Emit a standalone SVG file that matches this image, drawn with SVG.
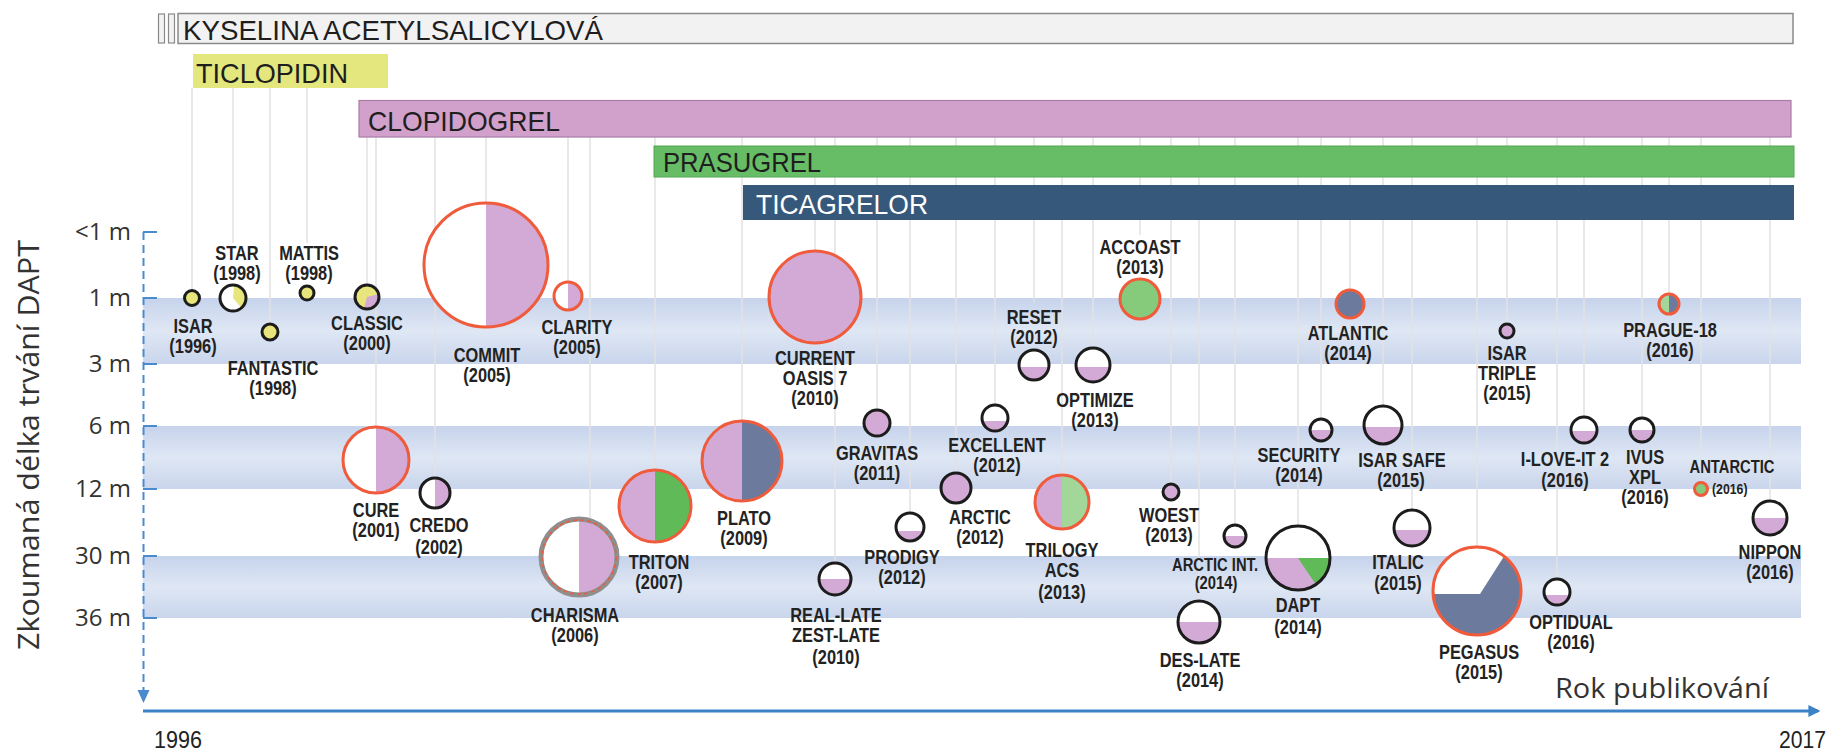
<svg xmlns="http://www.w3.org/2000/svg" width="1833" height="751" viewBox="0 0 1833 751">
<defs>
<linearGradient id="band" x1="0" y1="0" x2="0" y2="1">
<stop offset="0" stop-color="#c6d3ec"/><stop offset="0.5" stop-color="#dfe7f4"/><stop offset="1" stop-color="#c9d5ec"/>
</linearGradient>
<marker id="arr" viewBox="0 0 10 10" refX="8" refY="5" markerWidth="4" markerHeight="4" orient="auto" markerUnits="strokeWidth">
<path d="M0,0 L10,5 L0,10 Z" fill="#3b83c6"/>
</marker>
<style>
.lbl{font-family:"Liberation Sans",Arial,sans-serif;font-size:20px;font-weight:bold;fill:#222;text-anchor:middle}
.sm{font-size:18px}
.xs{font-size:15px}
.bar{font-family:"Liberation Sans",Arial,sans-serif;font-size:28px;fill:#1e1e1e}
.ax{font-family:"Open Sans","Liberation Sans",sans-serif;font-size:24px;fill:#333;text-anchor:end}
.yr{font-family:"Liberation Sans",Arial,sans-serif;font-size:23px;fill:#222}
.wh{fill:#fff}
.pu{fill:#d3aad5}
.ye{fill:#e7e57b}
.gr{fill:#5fba57}
.lg{fill:#a3d79a}
.sl{fill:#6c7b9d}
.kb{fill:none;stroke:#1c1c1c;stroke-width:3}
.rb{fill:none;stroke:#ef5b3b;stroke-width:3}
.cn{stroke:#e2e2e2;stroke-width:1.5;fill:none}
.tk{stroke:#4a8bd0;stroke-width:2}
</style>
</defs>
<rect width="1833" height="751" fill="#fff"/>

<g id="bands">
<rect x="143" y="298" width="1658" height="66" fill="url(#band)"/>
<rect x="143" y="426" width="1658" height="63" fill="url(#band)"/>
<rect x="143" y="556" width="1658" height="62" fill="url(#band)"/>
</g>

<g id="connectors">
<line class="cn" x1="192" y1="88" x2="192" y2="290"/>
<line class="cn" x1="233" y1="88" x2="233" y2="243"/>
<line class="cn" x1="270" y1="88" x2="270" y2="324"/>
<line class="cn" x1="307" y1="88" x2="307" y2="243"/>
<line class="cn" x1="367" y1="137" x2="367" y2="285"/>
<line class="cn" x1="376" y1="137" x2="376" y2="427"/>
<line class="cn" x1="435" y1="137" x2="435" y2="478"/>
<line class="cn" x1="486" y1="137" x2="486" y2="203"/>
<line class="cn" x1="568" y1="137" x2="568" y2="282"/>
<line class="cn" x1="590" y1="137" x2="590" y2="520"/>
<line class="cn" x1="655" y1="137" x2="655" y2="470"/>
<line class="cn" x1="742" y1="137" x2="742" y2="421"/>
<line class="cn" x1="815" y1="137" x2="815" y2="251"/>
<line class="cn" x1="835" y1="137" x2="835" y2="563"/>
<line class="cn" x1="877" y1="137" x2="877" y2="410"/>
<line class="cn" x1="910" y1="137" x2="910" y2="513"/>
<line class="cn" x1="956" y1="137" x2="956" y2="473"/>
<line class="cn" x1="995" y1="137" x2="995" y2="405"/>
<line class="cn" x1="1034" y1="137" x2="1034" y2="303"/>
<line class="cn" x1="1062" y1="137" x2="1062" y2="475"/>
<line class="cn" x1="1093" y1="137" x2="1093" y2="348"/>
<line class="cn" x1="1140" y1="137" x2="1140" y2="235"/>
<line class="cn" x1="1171" y1="137" x2="1171" y2="484"/>
<line class="cn" x1="1199" y1="137" x2="1199" y2="601"/>
<line class="cn" x1="1235" y1="137" x2="1235" y2="525"/>
<line class="cn" x1="1298" y1="137" x2="1298" y2="526"/>
<line class="cn" x1="1321" y1="137" x2="1321" y2="419"/>
<line class="cn" x1="1350" y1="137" x2="1350" y2="290"/>
<line class="cn" x1="1383" y1="137" x2="1383" y2="406"/>
<line class="cn" x1="1412" y1="137" x2="1412" y2="509"/>
<line class="cn" x1="1477" y1="137" x2="1477" y2="547"/>
<line class="cn" x1="1507" y1="137" x2="1507" y2="324"/>
<line class="cn" x1="1557" y1="137" x2="1557" y2="579"/>
<line class="cn" x1="1584" y1="137" x2="1584" y2="417"/>
<line class="cn" x1="1642" y1="137" x2="1642" y2="418"/>
<line class="cn" x1="1669" y1="137" x2="1669" y2="294"/>
<line class="cn" x1="1701" y1="137" x2="1701" y2="455"/>
<line class="cn" x1="1770" y1="137" x2="1770" y2="501"/>
</g>

<g id="bar-asa">
<rect x="158.5" y="14" width="6" height="29" fill="#f2f2f2" stroke="#8a8a8a" stroke-width="1.2"/>
<rect x="168.5" y="14" width="6" height="29" fill="#f2f2f2" stroke="#8a8a8a" stroke-width="1.2"/>
<rect x="178" y="13.5" width="1615" height="30" fill="#f2f2f2" stroke="#8a8a8a" stroke-width="1.5"/>
<text class="bar" x="183" y="40" textLength="420" lengthAdjust="spacingAndGlyphs">KYSELINA ACETYLSALICYLOVÁ</text>
</g>
<g id="bar-ticlopidin">
<rect x="193" y="54" width="195" height="34" fill="#e4e77d"/>
<text class="bar" x="196" y="83" textLength="152" lengthAdjust="spacingAndGlyphs">TICLOPIDIN</text>
</g>
<g id="bar-clopidogrel">
<rect x="359" y="100.5" width="1432" height="36.5" fill="#d1a1cb" stroke="#a97ca8" stroke-width="1.2"/>
<text class="bar" x="368" y="131" textLength="192" lengthAdjust="spacingAndGlyphs">CLOPIDOGREL</text>
</g>
<g id="bar-prasugrel">
<rect x="654" y="146" width="1140" height="31" fill="#67bd66" stroke="#55a655" stroke-width="1"/>
<text class="bar" x="663" y="172" textLength="158" lengthAdjust="spacingAndGlyphs">PRASUGREL</text>
</g>
<g id="bar-ticagrelor">
<rect x="743" y="185" width="1051" height="35" fill="#36587b"/>
<text class="bar" x="756" y="214" textLength="172" lengthAdjust="spacingAndGlyphs" style="fill:#fff">TICAGRELOR</text>
</g>

<g id="axes">
<line x1="143.5" y1="232" x2="143.5" y2="692" stroke="#4a8bd0" stroke-width="2" stroke-dasharray="8,5"/>
<polygon points="137.5,690 149.5,690 143.5,703" fill="#4a8bd0"/>
<line class="tk" x1="143" y1="232" x2="157" y2="232"/>
<line class="tk" x1="143" y1="298" x2="157" y2="298"/>
<line class="tk" x1="143" y1="364" x2="157" y2="364"/>
<line class="tk" x1="143" y1="426" x2="157" y2="426"/>
<line class="tk" x1="143" y1="489" x2="157" y2="489"/>
<line class="tk" x1="143" y1="556" x2="157" y2="556"/>
<line class="tk" x1="143" y1="618" x2="157" y2="618"/>
<text class="ax" x="131" y="240">&lt;1 m</text>
<text class="ax" x="131" y="306">1 m</text>
<text class="ax" x="131" y="372">3 m</text>
<text class="ax" x="131" y="434">6 m</text>
<text class="ax" x="131" y="497">12 m</text>
<text class="ax" x="131" y="564">30 m</text>
<text class="ax" x="131" y="626">36 m</text>
<text transform="translate(39,445) rotate(-90)" font-family="'Open Sans','Liberation Sans',sans-serif" font-size="30" fill="#333" text-anchor="middle" textLength="410" lengthAdjust="spacingAndGlyphs">Zkoumaná délka trvání DAPT</text>
<line x1="143" y1="711" x2="1818" y2="711" stroke="#3b83c6" stroke-width="3" marker-end="url(#arr)"/>
<text class="yr" x="154" y="748" textLength="48" lengthAdjust="spacingAndGlyphs">1996</text>
<text class="yr" x="1779" y="748" textLength="47" lengthAdjust="spacingAndGlyphs">2017</text>
<text x="1555" y="698" font-family="'Open Sans','Liberation Sans',sans-serif" font-size="28" fill="#333" textLength="214" lengthAdjust="spacingAndGlyphs">Rok publikování</text>
</g>

<g id="n-isar">
<circle class="ye" cx="192" cy="298" r="7.5"/><circle class="kb" cx="192" cy="298" r="7.5"/>
<text class="lbl" transform="translate(193,333) scale(.82,1)">ISAR</text><text class="lbl" transform="translate(193,353) scale(.82,1)">(1996)</text>
</g>
<g id="n-star">
<circle class="wh" cx="233" cy="298" r="13"/>
<path class="ye" d="M233,298 L234.13,285.05 A13 13 0 0 1 241.36,307.96 Z"/>
<circle class="kb" cx="233" cy="298" r="13"/>
<text class="lbl" transform="translate(237,260) scale(.82,1)">STAR</text><text class="lbl" transform="translate(237,280) scale(.82,1)">(1998)</text>
</g>
<g id="n-fantastic">
<circle class="ye" cx="270" cy="332" r="8"/><circle class="kb" cx="270" cy="332" r="8"/>
<text class="lbl" transform="translate(273,375) scale(.82,1)">FANTASTIC</text><text class="lbl" transform="translate(273,395) scale(.82,1)">(1998)</text>
</g>
<g id="n-mattis">
<circle class="ye" cx="307" cy="293" r="7"/><circle class="kb" cx="307" cy="293" r="7"/>
<text class="lbl" transform="translate(309,260) scale(.82,1)">MATTIS</text><text class="lbl" transform="translate(309,280) scale(.82,1)">(1998)</text>
</g>
<g id="n-classic">
<circle class="ye" cx="367" cy="297" r="12"/>
<path class="pu" d="M367,297 L378.59,293.89 A12 12 0 0 1 363.89,308.59 Z"/>
<circle class="kb" cx="367" cy="297" r="12"/>
<text class="lbl" transform="translate(367,330) scale(.82,1)">CLASSIC</text><text class="lbl" transform="translate(367,350) scale(.82,1)">(2000)</text>
</g>
<g id="n-cure">
<circle class="wh" cx="376" cy="460" r="33"/>
<path class="pu" d="M376,427 A33 33 0 0 1 376,493 Z"/>
<circle class="rb" cx="376" cy="460" r="33"/>
<text class="lbl" transform="translate(376,517) scale(.82,1)">CURE</text><text class="lbl" transform="translate(376,537) scale(.82,1)">(2001)</text>
</g>
<g id="n-credo">
<circle class="wh" cx="435" cy="493" r="15"/>
<path class="pu" d="M435,478 A15 15 0 0 1 435,508 Z"/>
<circle class="kb" cx="435" cy="493" r="15"/>
<text class="lbl" transform="translate(439,532) scale(.82,1)">CREDO</text><text class="lbl" transform="translate(439,554) scale(.82,1)">(2002)</text>
</g>
<g id="n-commit">
<circle class="wh" cx="486" cy="265" r="62"/>
<path class="pu" d="M486,203 A62 62 0 0 1 486,327 Z"/>
<circle class="rb" cx="486" cy="265" r="62"/>
<text class="lbl" transform="translate(487,362) scale(.82,1)">COMMIT</text><text class="lbl" transform="translate(487,382) scale(.82,1)">(2005)</text>
</g>
<g id="n-clarity">
<circle class="wh" cx="568" cy="296" r="14"/>
<path class="pu" d="M568,282 A14 14 0 0 1 568,310 Z"/>
<circle class="rb" cx="568" cy="296" r="14"/>
<text class="lbl" transform="translate(577,334) scale(.82,1)">CLARITY</text><text class="lbl" transform="translate(577,354) scale(.82,1)">(2005)</text>
</g>
<g id="n-charisma">
<circle class="wh" cx="579" cy="557" r="38"/>
<path class="pu" d="M579,519 A38 38 0 0 1 579,595 Z"/>
<circle cx="579" cy="557" r="38" fill="none" stroke="#8f8f8f" stroke-width="5"/>
<circle cx="579" cy="557" r="37" fill="none" stroke="#ef5b3b" stroke-width="1.5" stroke-dasharray="4,3"/>
<text class="lbl" transform="translate(575,622) scale(.82,1)">CHARISMA</text><text class="lbl" transform="translate(575,642) scale(.82,1)">(2006)</text>
</g>
<g id="n-triton">
<circle class="pu" cx="655" cy="506" r="36"/>
<path class="gr" d="M655,470 A36 36 0 0 1 655,542 Z"/>
<circle class="rb" cx="655" cy="506" r="36"/>
<text class="lbl" transform="translate(659,569) scale(.82,1)">TRITON</text><text class="lbl" transform="translate(659,589) scale(.82,1)">(2007)</text>
</g>
<g id="n-plato">
<circle class="pu" cx="742" cy="461" r="40"/>
<path class="sl" d="M742,421 A40 40 0 0 1 742,501 Z"/>
<circle class="rb" cx="742" cy="461" r="40"/>
<text class="lbl" transform="translate(744,525) scale(.82,1)">PLATO</text><text class="lbl" transform="translate(744,545) scale(.82,1)">(2009)</text>
</g>
<g id="n-current">
<circle class="pu" cx="815" cy="297" r="46"/>
<circle class="rb" cx="815" cy="297" r="46"/>
<text class="lbl" transform="translate(815,365) scale(.82,1)">CURRENT</text><text class="lbl" transform="translate(815,385) scale(.82,1)">OASIS 7</text><text class="lbl" transform="translate(815,405) scale(.82,1)">(2010)</text>
</g>
<g id="n-reallate">
<circle class="wh" cx="835" cy="579" r="16"/>
<path class="pu" d="M819,579 L851,579 A16 16 0 0 1 819,579 Z"/>
<circle class="kb" cx="835" cy="579" r="16"/>
<text class="lbl" transform="translate(836,622) scale(.82,1)">REAL-LATE</text><text class="lbl" transform="translate(836,642) scale(.82,1)">ZEST-LATE</text><text class="lbl" transform="translate(836,664) scale(.82,1)">(2010)</text>
</g>
<g id="n-gravitas">
<circle class="pu" cx="877" cy="423" r="13"/><circle class="kb" cx="877" cy="423" r="13"/>
<text class="lbl" transform="translate(877,460) scale(.82,1)">GRAVITAS</text><text class="lbl" transform="translate(877,480) scale(.82,1)">(2011)</text>
</g>
<g id="n-prodigy">
<circle class="wh" cx="910" cy="527" r="14"/>
<path class="pu" d="M896.58,531 L923.42,531 A14 14 0 0 1 896.58,531 Z"/>
<circle class="kb" cx="910" cy="527" r="14"/>
<text class="lbl" transform="translate(902,564) scale(.82,1)">PRODIGY</text><text class="lbl" transform="translate(902,584) scale(.82,1)">(2012)</text>
</g>
<g id="n-arctic">
<circle class="pu" cx="956" cy="488" r="15"/><circle class="kb" cx="956" cy="488" r="15"/>
<text class="lbl" transform="translate(980,524) scale(.82,1)">ARCTIC</text><text class="lbl" transform="translate(980,544) scale(.82,1)">(2012)</text>
</g>
<g id="n-excellent">
<circle class="wh" cx="995" cy="418" r="13"/>
<path class="pu" d="M982.35,421 L1007.65,421 A13 13 0 0 1 982.35,421 Z"/>
<circle class="kb" cx="995" cy="418" r="13"/>
<text class="lbl" transform="translate(997,452) scale(.82,1)">EXCELLENT</text><text class="lbl" transform="translate(997,472) scale(.82,1)">(2012)</text>
</g>
<g id="n-reset">
<circle class="wh" cx="1034" cy="365" r="15"/>
<path class="pu" d="M1019.13,367 L1048.87,367 A15 15 0 0 1 1019.13,367 Z"/>
<circle class="kb" cx="1034" cy="365" r="15"/>
<text class="lbl" transform="translate(1034,324) scale(.82,1)">RESET</text><text class="lbl" transform="translate(1034,344) scale(.82,1)">(2012)</text>
</g>
<g id="n-optimize">
<circle class="wh" cx="1093" cy="365" r="17"/>
<path class="pu" d="M1076.12,367 L1109.88,367 A17 17 0 0 1 1076.12,367 Z"/>
<circle class="kb" cx="1093" cy="365" r="17"/>
<text class="lbl" transform="translate(1095,407) scale(.82,1)">OPTIMIZE</text><text class="lbl" transform="translate(1095,427) scale(.82,1)">(2013)</text>
</g>
<g id="n-accoast">
<circle fill="#86cb7c" cx="1140" cy="299" r="20"/><circle class="rb" cx="1140" cy="299" r="20"/>
<text class="lbl" transform="translate(1140,254) scale(.82,1)">ACCOAST</text><text class="lbl" transform="translate(1140,274) scale(.82,1)">(2013)</text>
</g>
<g id="n-trilogy">
<circle class="pu" cx="1062" cy="502" r="27"/>
<path class="lg" d="M1062,475 A27 27 0 0 1 1062,529 Z"/>
<circle class="rb" cx="1062" cy="502" r="27"/>
<text class="lbl" transform="translate(1062,557) scale(.82,1)">TRILOGY</text><text class="lbl" transform="translate(1062,577) scale(.82,1)">ACS</text><text class="lbl" transform="translate(1062,599) scale(.82,1)">(2013)</text>
</g>
<g id="n-woest">
<circle class="pu" cx="1171" cy="492" r="8"/><circle class="kb" cx="1171" cy="492" r="8"/>
<text class="lbl" transform="translate(1169,522) scale(.82,1)">WOEST</text><text class="lbl" transform="translate(1169,542) scale(.82,1)">(2013)</text>
</g>
<g id="n-deslate">
<circle class="wh" cx="1199" cy="622" r="21"/>
<path class="pu" d="M1178,622 L1220,622 A21 21 0 0 1 1178,622 Z"/>
<circle class="kb" cx="1199" cy="622" r="21"/>
<text class="lbl" transform="translate(1200,667) scale(.82,1)">DES-LATE</text><text class="lbl" transform="translate(1200,687) scale(.82,1)">(2014)</text>
</g>
<g id="n-arcticint">
<circle class="wh" cx="1235" cy="536" r="11"/>
<path class="pu" d="M1224,536 L1246,536 A11 11 0 0 1 1224,536 Z"/>
<circle class="kb" cx="1235" cy="536" r="11"/>
<text class="lbl sm" transform="translate(1215,571) scale(.82,1)">ARCTIC INT.</text><text class="lbl sm" transform="translate(1216,589) scale(.82,1)">(2014)</text>
</g>
<g id="n-dapt">
<circle class="wh" cx="1298" cy="558" r="32"/>
<path class="pu" d="M1266,558 L1330,558 A32 32 0 0 1 1266,558 Z"/>
<path class="gr" d="M1298,558 L1330,558 A32 32 0 0 1 1315.89,584.53 Z"/>
<circle class="kb" cx="1298" cy="558" r="32"/>
<text class="lbl" transform="translate(1298,612) scale(.82,1)">DAPT</text><text class="lbl" transform="translate(1298,634) scale(.82,1)">(2014)</text>
</g>
<g id="n-security">
<circle class="wh" cx="1321" cy="430" r="11"/>
<path class="pu" d="M1310,430 L1332,430 A11 11 0 0 1 1310,430 Z"/>
<circle class="kb" cx="1321" cy="430" r="11"/>
<text class="lbl" transform="translate(1299,462) scale(.82,1)">SECURITY</text><text class="lbl" transform="translate(1299,482) scale(.82,1)">(2014)</text>
</g>
<g id="n-atlantic">
<circle class="sl" cx="1350" cy="304" r="14"/><circle class="rb" cx="1350" cy="304" r="14"/>
<text class="lbl" transform="translate(1348,340) scale(.82,1)">ATLANTIC</text><text class="lbl" transform="translate(1348,360) scale(.82,1)">(2014)</text>
</g>
<g id="n-isarsafe">
<circle class="wh" cx="1383" cy="425" r="19"/>
<path class="pu" d="M1364.11,427 L1401.89,427 A19 19 0 0 1 1364.11,427 Z"/>
<circle class="kb" cx="1383" cy="425" r="19"/>
<text class="lbl" transform="translate(1402,467) scale(.82,1)">ISAR SAFE</text><text class="lbl" transform="translate(1401,487) scale(.82,1)">(2015)</text>
</g>
<g id="n-italic">
<circle class="wh" cx="1412" cy="528" r="18"/>
<path class="pu" d="M1394.11,530 L1429.89,530 A18 18 0 0 1 1394.11,530 Z"/>
<circle class="kb" cx="1412" cy="528" r="18"/>
<text class="lbl" transform="translate(1398,569) scale(.82,1)">ITALIC</text><text class="lbl" transform="translate(1398,590) scale(.82,1)">(2015)</text>
</g>
<g id="n-pegasus">
<circle class="sl" cx="1477" cy="591" r="44"/>
<path class="wh" d="M1433.1,594 L1480,594 L1504.07,556.32 A44 44 0 0 0 1433.1,594 Z"/>
<circle class="rb" cx="1477" cy="591" r="44"/>
<text class="lbl" transform="translate(1479,659) scale(.82,1)">PEGASUS</text><text class="lbl" transform="translate(1479,679) scale(.82,1)">(2015)</text>
</g>
<g id="n-isartriple">
<circle class="pu" cx="1507" cy="331" r="7"/><circle class="kb" cx="1507" cy="331" r="7"/>
<text class="lbl" transform="translate(1507,360) scale(.82,1)">ISAR</text><text class="lbl" transform="translate(1507,380) scale(.82,1)">TRIPLE</text><text class="lbl" transform="translate(1507,400) scale(.82,1)">(2015)</text>
</g>
<g id="n-optidual">
<circle class="wh" cx="1557" cy="592" r="13"/>
<path class="pu" d="M1544.35,595 L1569.65,595 A13 13 0 0 1 1544.35,595 Z"/>
<circle class="kb" cx="1557" cy="592" r="13"/>
<text class="lbl" transform="translate(1571,629) scale(.82,1)">OPTIDUAL</text><text class="lbl" transform="translate(1571,649) scale(.82,1)">(2016)</text>
</g>
<g id="n-iloveit2">
<circle class="wh" cx="1584" cy="430" r="13"/>
<path class="pu" d="M1571.04,431 L1596.96,431 A13 13 0 0 1 1571.04,431 Z"/>
<circle class="kb" cx="1584" cy="430" r="13"/>
<text class="lbl" transform="translate(1565,466) scale(.82,1)">I-LOVE-IT 2</text><text class="lbl" transform="translate(1565,487) scale(.82,1)">(2016)</text>
</g>
<g id="n-ivusxpl">
<circle class="wh" cx="1642" cy="430" r="12"/>
<path class="pu" d="M1630,430 L1654,430 A12 12 0 0 1 1630,430 Z"/>
<circle class="kb" cx="1642" cy="430" r="12"/>
<text class="lbl" transform="translate(1645,464) scale(.82,1)">IVUS</text><text class="lbl" transform="translate(1645,484) scale(.82,1)">XPL</text><text class="lbl" transform="translate(1645,504) scale(.82,1)">(2016)</text>
</g>
<g id="n-prague18">
<circle class="lg" cx="1669" cy="304" r="10"/>
<path class="sl" d="M1669,294 A10 10 0 0 1 1669,314 Z"/>
<circle class="rb" cx="1669" cy="304" r="10"/>
<text class="lbl" transform="translate(1670,337) scale(.82,1)">PRAGUE-18</text><text class="lbl" transform="translate(1670,357) scale(.82,1)">(2016)</text>
</g>
<g id="n-antarctic">
<circle fill="#86cb7c" cx="1701" cy="489" r="6.5"/><circle class="rb" cx="1701" cy="489" r="6.5"/>
<text class="lbl sm" transform="translate(1732,473) scale(.82,1)">ANTARCTIC</text><text class="lbl xs" transform="translate(1712,494) scale(.82,1)" style="text-anchor:start">(2016)</text>
</g>
<g id="n-nippon">
<circle class="wh" cx="1770" cy="518" r="17"/>
<path class="pu" d="M1753,518 L1787,518 A17 17 0 0 1 1753,518 Z"/>
<circle class="kb" cx="1770" cy="518" r="17"/>
<text class="lbl" transform="translate(1770,559) scale(.82,1)">NIPPON</text><text class="lbl" transform="translate(1770,579) scale(.82,1)">(2016)</text>
</g>
</svg>
